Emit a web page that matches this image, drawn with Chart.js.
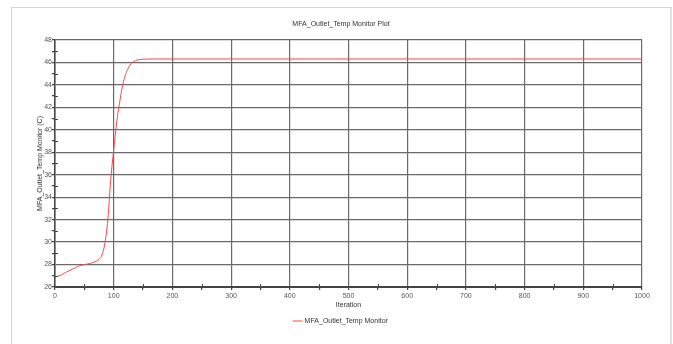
<!DOCTYPE html>
<html>
<head>
<meta charset="utf-8">
<script src="https://cdn.jsdelivr.net/npm/chart.js@4/dist/chart.umd.min.js"></script>
<style>
  html, body { margin: 0; padding: 0; background: #fff; overflow: hidden; }
  #wrap { position: relative; width: 673px; height: 344px; }
  #frame { position: absolute; left: 11px; top: 7px; width: 658px; height: 400px;
           border-left: 1px solid #d6d6d6; border-top: 1px solid #d6d6d6; border-right: 2px solid #e2e2e2;
           pointer-events: none; }
</style>
</head>
<body>
<div id="wrap">
  <canvas id="c" width="673" height="344"></canvas>
  <div id="frame"></div>
</div>
<script>
const chartTitle = 'MFA_Outlet_Temp Monitor Plot';
const seriesName = 'MFA_Outlet_Temp Monitor';
const xTitle = 'Iteration';
const yTitle = 'MFA_Outlet_Temp Monitor (C)';
const iterations = [0, 10, 20, 30, 40, 50, 60, 70, 75, 80, 85, 90, 95, 100, 105, 110, 115, 120, 125, 130, 135, 140, 150, 160, 200, 300, 400, 500, 600, 700, 800, 900, 1000];
const temps = [26.9, 27.05, 27.35, 27.6, 27.85, 28.0, 28.1, 28.3, 28.45, 28.85, 29.9, 32.0, 35.6, 38.2, 40.6, 42.4, 43.9, 44.9, 45.5, 45.9, 46.1, 46.2, 46.28, 46.3, 46.3, 46.3, 46.3, 46.3, 46.3, 46.3, 46.3, 46.3, 46.3];
const xMin = 0, xMax = 1000, xStep = 50, xLabelStep = 100;
const yMin = 26, yMax = 48, yStep = 1, yLabelStep = 2;

const FONT = 'Liberation Sans, Arial, sans-serif';
const points = iterations.map((x, i) => ({ x: x, y: temps[i] }));

// small inward marks for the minor ticks, placed through the chart's own scales
const minorTicks = {
  id: 'minorTicks',
  afterDatasetsDraw(chart) {
    const ctx = chart.ctx, xs = chart.scales.x, ys = chart.scales.y, a = chart.chartArea;
    ctx.save();
    ctx.strokeStyle = '#444';
    ctx.lineWidth = 1;
    xs.ticks.forEach(t => {
      if (t.value % xLabelStep !== 0) {
        const px = Math.round(xs.getPixelForValue(t.value)) + 0.5;
        ctx.beginPath(); ctx.moveTo(px, a.bottom); ctx.lineTo(px, a.bottom - 3); ctx.stroke();
      }
    });
    ys.ticks.forEach(t => {
      if (t.value % yLabelStep !== 0) {
        const py = Math.round(ys.getPixelForValue(t.value)) + 0.5;
        ctx.beginPath(); ctx.moveTo(a.left, py); ctx.lineTo(a.left + 3, py); ctx.stroke();
      }
    });
    ctx.restore();
  }
};

new Chart(document.getElementById('c'), {
  type: 'line',
  data: {
    datasets: [{
      label: seriesName,
      data: points,
      borderColor: 'rgb(255,70,70)',
      backgroundColor: 'rgb(255,70,70)',
      borderWidth: 1,
      pointRadius: 0,
      fill: false,
      cubicInterpolationMode: 'monotone'
    }]
  },
  plugins: [minorTicks],
  options: {
    responsive: false,
    animation: false,
    layout: { padding: { left: 11, right: 2, top: 0, bottom: 9.5 } },
    plugins: {
      title: {
        display: true,
        text: chartTitle,
        color: '#333',
        font: { family: FONT, size: 7, weight: 'normal' },
        padding: { top: 19.5, bottom: 12 }
      },
      legend: {
        display: true,
        position: 'bottom',
        labels: {
          usePointStyle: true,
          pointStyle: 'line',
          boxWidth: 8,
          boxHeight: 7,
          padding: 6,
          color: '#333',
          font: { family: FONT, size: 7 }
        }
      },
      tooltip: { enabled: false }
    },
    scales: {
      x: {
        type: 'linear',
        min: xMin, max: xMax,
        afterFit: s => { s.height = 24.5; },
        ticks: {
          stepSize: xStep,
          autoSkip: false,
          maxRotation: 0,
          padding: 2,
          color: '#555',
          font: { family: FONT, size: 7 },
          callback: v => (v % xLabelStep === 0 ? String(v) : '')
        },
        grid: {
          color: c => (c.tick && c.tick.value % xLabelStep === 0 ? '#6a6a6a' : 'rgba(0,0,0,0)'),
          lineWidth: 1.2,
          tickColor: '#444',
          tickLength: 3
        },
        border: { display: true, color: '#444', width: 2 },
        title: {
          display: true,
          text: xTitle,
          color: '#333',
          font: { family: FONT, size: 7 },
          padding: { top: 0, bottom: 2 }
        }
      },
      y: {
        type: 'linear',
        min: yMin, max: yMax,
        afterFit: s => { s.width = 44; },
        ticks: {
          stepSize: yStep,
          autoSkip: false,
          padding: 0,
          color: '#555',
          font: { family: FONT, size: 7 },
          callback: v => (v % yLabelStep === 0 ? String(v) : '')
        },
        grid: {
          color: c => (c.tick && c.tick.value % yLabelStep === 0 ? '#6a6a6a' : 'rgba(0,0,0,0)'),
          lineWidth: 1.2,
          tickColor: '#444',
          tickLength: 3
        },
        border: { display: true, color: '#444', width: 1.5 },
        title: {
          display: true,
          text: yTitle,
          color: '#333',
          font: { family: FONT, size: 7 },
          padding: { top: 25, bottom: 0 }
        }
      },
      yRight: {
        type: 'linear',
        position: 'right',
        display: true,
        min: yMin, max: yMax,
        afterFit: s => { s.width = 29; },
        ticks: { display: false },
        grid: { display: false },
        border: { display: false }
      }
    }
  }
});
</script>
</body>
</html>
